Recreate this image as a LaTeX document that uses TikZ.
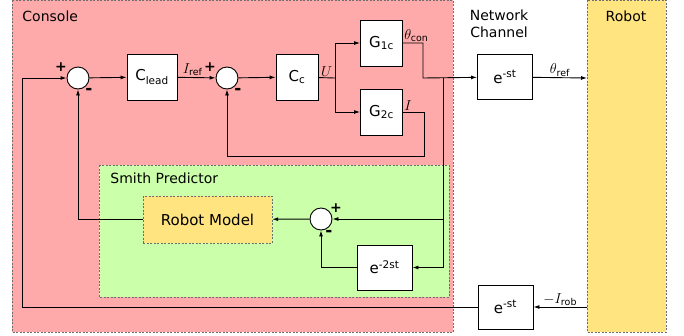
\documentclass[tikz,border=0pt]{standalone}
\usepackage{fontspec}
\setmainfont{DejaVu Sans}
\usetikzlibrary{positioning,arrows.meta,calc}
\definecolor{spPink}{RGB}{255,170,170}
\definecolor{spGreen}{RGB}{204,255,170}
\definecolor{spYellow}{RGB}{255,228,128}
\definecolor{spGray}{RGB}{110,110,110}
\tikzset{
    base/.style={font=\fontsize{15}{18}\selectfont, align=center},
    block/.style={base, rectangle, draw=black, fill=white, inner sep=0pt},
    sum/.style={circle, draw=black, fill=white, minimum size=22pt, inner sep=0pt},
    region/.style={draw=spGray, thin, dash pattern=on 2pt off 1.5pt},
    flow/.style={-{Latex[length=6pt,width=4pt]}},
    sign/.style={font=\fontsize{14}{16}\selectfont\bfseries, inner sep=0pt},
    sig/.style={font=\fontsize{13.5}{16}\selectfont, inner sep=1pt},
    title/.style={font=\fontsize{14}{17}\selectfont, inner sep=0pt, align=center}
}

\begin{document}
\begin{tikzpicture}[
    x=1pt, y=-1pt,
    line width=0.9pt,
    wide block/.style={block, minimum width=50pt, minimum height=46pt},
    small block/.style={block, minimum width=42pt, minimum height=46pt},
    delay block/.style={block, minimum width=55pt, minimum height=45pt}
]
  \useasboundingbox (0,0) rectangle (684,335);

  % regions
  \filldraw[region, fill=spPink] (12,0) rectangle (453,332);
  \filldraw[region, fill=spYellow] (587,0) rectangle (666,332);
  \filldraw[region, fill=spGreen] (99,165) rectangle (449,297);

  \node[title, anchor=west] (console) at (22,16) {Console};
  \node[title] (network) at (499,24) {Network\\Channel};
  \node[title] (robot) at (626,16) {Robot};
  \node[title, anchor=west] (smith) at (110,178) {Smith Predictor};

  % forward path
  \node[sum] (s1) at (78,78) {};
  \node[wide block] (clead) at (152,77) {C\textsubscript{lead}};
  \node[sum] (s2) at (227,78) {};
  \node[small block] (cc) at (297,77) {C\textsubscript{c}};
  \node[small block] (g1) at (381.5,43) {G\textsubscript{1c}};
  \node[small block] (g2) at (381.5,112) {G\textsubscript{2c}};
  \node[delay block] (d1) at (505,77) {e\textsuperscript{-st}};

  % predictor
  \node[sum] (s3) at (321,219) {};
  \node[delay block] (d2) at (384.5,267.5) {e\textsuperscript{-2st}};
  \node[block, fill=spYellow, draw=spGray, thin, dash pattern=on 2pt off 1.5pt,
        minimum width=129pt, minimum height=47pt] (model) at (207.5,219.5) {Robot Model};
  \node[delay block, minimum height=44pt] (d3) at (505.5,307) {e\textsuperscript{-st}};

  \node[sign] (s1plus) at ($(s1)+(-17,-11)$) {+};
  \node[sign, font=\fontsize{17}{17}\selectfont\bfseries] (s1minus) at ($(s1)+(11,13)$) {-};
  \node[sign] (s2plus) at ($(s2)+(-17,-11)$) {+};
  \node[sign, font=\fontsize{17}{17}\selectfont\bfseries] (s2minus) at ($(s2)+(11,13)$) {-};
  \node[sign] (s3plus) at ($(s3)+(15,-11)$) {+};
  \node[sign, font=\fontsize{17}{17}\selectfont\bfseries] (s3minus) at ($(s3)+(8,14)$) {-};

  \coordinate (split) at (335,78);
  \coordinate (join) at (423,78);
  \coordinate (tap) at (443,78);
  \coordinate (robotin) at (587,78);
  \coordinate (robotout) at (587,307);
  \coordinate (corner) at (22,307);

  \draw[flow] (s1) -- (clead);
  \draw[flow] (clead) -- node[sig, above, pos=0.4] {$I_{\mathrm{ref}}$} (s2);
  \draw[flow] (s2) -- (cc);
  \draw (cc) -- node[sig, above] {$U$} (split);
  \draw[flow] (split) |- (g1);
  \draw[flow] (split) |- (g2);
  \draw[flow] (g1.east) node[sig, anchor=south west] {$\theta_{\mathrm{con}}$} -| (join) -- (d1);
  \draw[flow] (d1) -- node[sig, above] {$\theta_{\mathrm{ref}}$} (robotin);
  \draw[flow] (g2.east) node[sig, anchor=south west] {$I$} -| ++(21,44) -| (s2);

  \draw[flow] (tap) |- (s3);
  \draw[flow] (tap) |- (d2);
  \draw[flow] (s3) -- (model);
  \draw[flow] (d2) -| (s3);
  \draw[flow] (model) -| (s1);

  \draw[flow] (robotout) -- node[sig, above] {$-I_{\mathrm{rob}}$} (d3);
  \draw[flow] (d3) -- (corner) |- (s1);
\end{tikzpicture}
\end{document}
